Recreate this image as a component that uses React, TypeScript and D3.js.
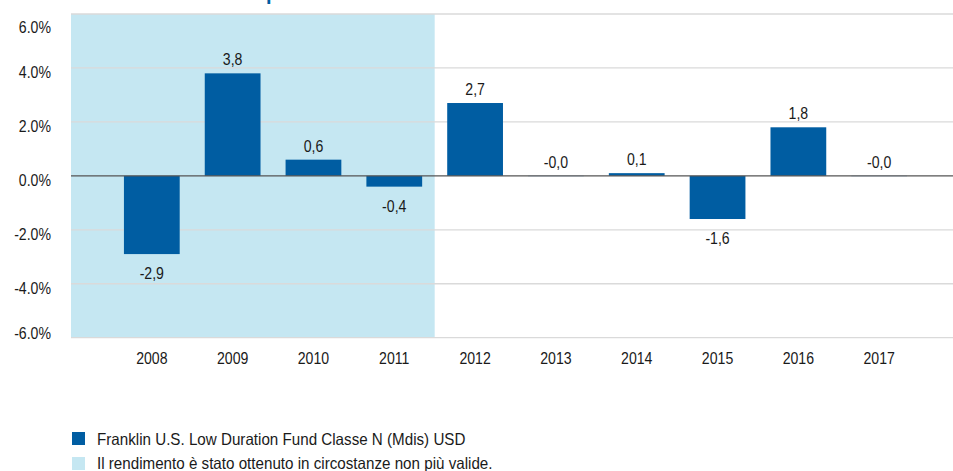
import React from "react";
import * as d3 from "d3";

const years = ["2008", "2009", "2010", "2011", "2012", "2013", "2014", "2015", "2016", "2017"];
const values = [-2.9, 3.8, 0.6, -0.4, 2.7, -0.01, 0.1, -1.6, 1.8, -0.01];
const shadedYears = ["2008", "2009", "2010", "2011"];
const yTicks = [-6, -4, -2, 0, 2, 4, 6];
const seriesName = "Franklin U.S. Low Duration Fund Classe N (Mdis) USD";
const shadeNote = "Il rendimento è stato ottenuto in circostanze non più valide.";
const title = "Rendimento per anno solare";

const W = 953;
const H = 471;
const FONT = "'Liberation Sans', Arial, Helvetica, sans-serif";
const BAR = "#005da2";
const SHADE = "#c5e7f2";
const INK = "#1a1a1a";

const fmtVal = (v: number) => {
  const s = Math.abs(v).toFixed(1).replace(".", ",");
  return (v < 0 ? "-" : "") + s;
};
const fmtTick = (v: number) => v.toFixed(1) + "%";

function T({
  x,
  y,
  size,
  sx,
  anchor,
  children,
}: {
  x: number;
  y: number;
  size: number;
  sx: number;
  anchor: "start" | "middle" | "end";
  children: React.ReactNode;
}) {
  return (
    <g transform={`translate(${x},${y}) scale(${sx},1)`}>
      <text x={0} y={0} fontSize={size} textAnchor={anchor} fill={INK}>
        {children}
      </text>
    </g>
  );
}

export default function App() {
  const left = 71;
  const top = 14;
  const bottom = 337.7;
  const right = W;

  const x = d3.scalePoint<string>().domain(years).range([left, 960]).padding(1);
  const step = x.step();
  const barW = step * 0.69;
  const y = d3.scaleLinear().domain([-6, 6]).range([bottom, top]);

  const shadeEnd = (x(shadedYears[shadedYears.length - 1]) as number) + step / 2;
  const AX = 17;
  const AXS = 0.83;

  return (
    <svg
      width={W}
      height={H}
      style={{ position: "absolute", left: 0, top: 0, display: "block", background: "#fff" }}
      fontFamily={FONT}
    >
      <text x={145} y={0} fontSize={20} fontWeight="bold" fill={BAR}>
        {title}
      </text>
      <rect x={left} y={top} width={shadeEnd - left} height={bottom - top} fill={SHADE} />
      {yTicks
        .filter((t) => t !== 0)
        .map((t) => (
          <line key={t} x1={left} x2={right} y1={y(t)} y2={y(t)} stroke="#dadada" strokeWidth={1.3} />
        ))}
      {yTicks.map((t) => {
        const by = Math.min(Math.max(y(t) + 10, top + 19), bottom + 1.5);
        return (
          <T key={t} x={51} y={by} size={AX} sx={AXS} anchor="end">
            {fmtTick(t)}
          </T>
        );
      })}
      {years.map((yr, i) => {
        const v = values[i];
        const cx = x(yr) as number;
        const y0 = y(0);
        const y1 = y(v);
        const rounded = Math.round(v * 10) / 10;
        const above = rounded >= 0 || Math.abs(rounded) < 0.05;
        return (
          <g key={yr}>
            <rect x={cx - barW / 2} y={Math.min(y0, y1)} width={barW} height={Math.abs(y1 - y0)} fill={BAR} />
            <T
              x={cx}
              y={above ? Math.min(y0, y1) - 8 : Math.max(y0, y1) + 25}
              size={AX}
              sx={AXS}
              anchor="middle"
            >
              {fmtVal(v)}
            </T>
            <T x={cx} y={364} size={AX} sx={AXS} anchor="middle">
              {yr}
            </T>
          </g>
        );
      })}
      <line x1={left} x2={right} y1={y(0)} y2={y(0)} stroke="#555" strokeWidth={1.2} />
      <rect x={72} y={432} width={13} height={13} fill={BAR} />
      <T x={97} y={444.5} size={16.5} sx={0.92} anchor="start">
        {seriesName}
      </T>
      <rect x={72} y={457} width={13} height={13} fill={SHADE} />
      <T x={97} y={468.5} size={16.5} sx={0.92} anchor="start">
        {shadeNote}
      </T>
    </svg>
  );
}
